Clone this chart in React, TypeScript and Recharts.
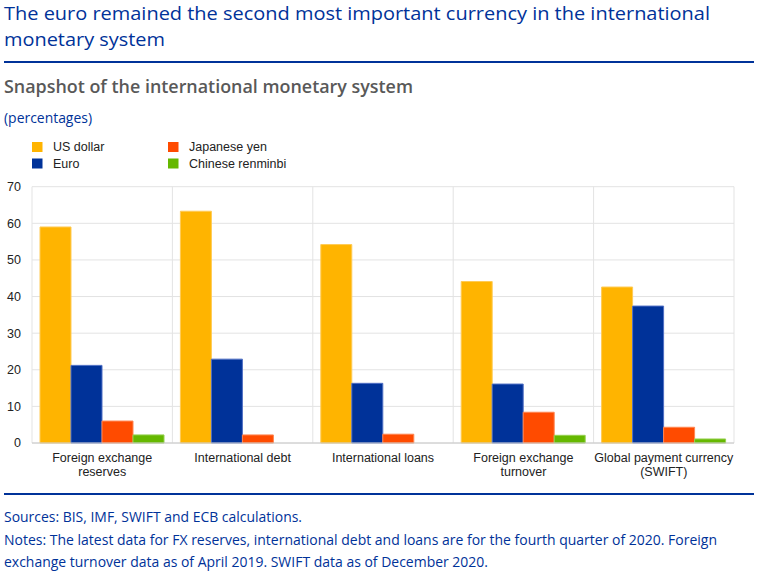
import { BarChart, Bar, XAxis, YAxis, CartesianGrid } from 'recharts';

const categories = [
  'Foreign exchange\nreserves',
  'International debt',
  'International loans',
  'Foreign exchange\nturnover',
  'Global payment currency\n(SWIFT)',
];
const usDollar = [59.0, 63.3, 54.2, 44.1, 42.6];
const euro = [21.2, 22.9, 16.3, 16.1, 37.4];
const yen = [6.0, 2.2, 2.4, 8.4, 4.3];
const renminbi = [2.2, null, null, 2.1, 1.1];
const yTicks = [0, 10, 20, 30, 40, 50, 60, 70];

const series = [
  { key: 'usd', name: 'US dollar', color: '#FFB400', edge: '#FFCB55' },
  { key: 'eur', name: 'Euro', color: '#003299', edge: '#4F6FC4' },
  { key: 'jpy', name: 'Japanese yen', color: '#FF4B00', edge: '#FF8652' },
  { key: 'cny', name: 'Chinese renminbi', color: '#65B800', edge: '#95D04F' },
];

const data = categories.map((category, i) => ({
  category,
  usd: usDollar[i],
  eur: euro[i],
  jpy: yen[i],
  cny: renminbi[i],
}));

const BLUE = '#003299';
const OPEN = "'Open Sans', 'Noto Sans', sans-serif";
const ARIAL = "'Liberation Sans', Arial, sans-serif";

const CategoryTick = (props: any) => {
  const { x, y, payload } = props;
  const lines = String(payload.value).split('\n');
  return (
    <text x={x} y={y} textAnchor="middle" fontFamily={ARIAL} fontSize={12.5} fill="#222">
      {lines.map((line, i) => (
        <tspan key={i} x={x} dy={i === 0 ? 16.5 : 14.5}>
          {line}
        </tspan>
      ))}
    </text>
  );
};

const boundaries = (props: any) => {
  const { left, width } = props.offset;
  return categories.map((_, i) => left + (width * i) / categories.length).concat(left + width);
};

const Texts = () => (
  <svg width={769} height={581} style={{ position: 'absolute', left: 0, top: 0 }}>
    <text x={4} y={20} fontFamily={OPEN} fontSize={19} fill={BLUE} textLength={706} lengthAdjust="spacingAndGlyphs">
      The euro remained the second most important currency in the international
    </text>
    <text x={4} y={46} fontFamily={OPEN} fontSize={19} fill={BLUE} textLength={161} lengthAdjust="spacingAndGlyphs">
      monetary system
    </text>
    <rect x={4} y={61} width={750} height={2} fill={BLUE} />
    <text x={4} y={93} fontFamily={OPEN} fontSize={18} fontWeight={600} fill="#595959" textLength={409} lengthAdjust="spacingAndGlyphs">
      Snapshot of the international monetary system
    </text>
    <text x={4} y={123} fontFamily={OPEN} fontSize={14} fill={BLUE} textLength={88} lengthAdjust="spacingAndGlyphs">
      (percentages)
    </text>
    {series.map((s, i) => {
      const lx = i < 2 ? 32 : 168;
      const ly = i % 2 === 0 ? 142 : 158.5;
      return (
        <g key={s.key}>
          <rect x={lx} y={ly} width={10.5} height={10} fill={s.color} />
          <text x={lx + 21} y={ly + 9} fontFamily={ARIAL} fontSize={12.5} fill="#222">
            {s.name}
          </text>
        </g>
      );
    })}
    <rect x={4} y={493} width={750} height={2} fill={BLUE} />
    <text x={4} y={521.5} fontFamily={OPEN} fontSize={14} fill={BLUE} textLength={298} lengthAdjust="spacingAndGlyphs">
      Sources: BIS, IMF, SWIFT and ECB calculations.
    </text>
    <text x={4} y={545} fontFamily={OPEN} fontSize={14} fill={BLUE} textLength={713} lengthAdjust="spacingAndGlyphs">
      Notes: The latest data for FX reserves, international debt and loans are for the fourth quarter of 2020. Foreign
    </text>
    <text x={4} y={567} fontFamily={OPEN} fontSize={14} fill={BLUE} textLength={484} lengthAdjust="spacingAndGlyphs">
      exchange turnover data as of April 2019. SWIFT data as of December 2020.
    </text>
  </svg>
);

export default function App() {
  return (
    <div style={{ position: 'absolute', left: 0, top: 0, width: 769, height: 581, background: '#fff' }}>
      <Texts />
      <div style={{ position: 'absolute', left: 0, top: 180 }}>
        <BarChart
          width={769}
          height={310}
          data={data}
          margin={{ top: 6.7, right: 35, bottom: 0, left: 0 }}
          barCategoryGap={8}
          barGap={0}
        >
          <CartesianGrid stroke="#e3e3e3" verticalCoordinatesGenerator={boundaries} />
          <XAxis
            dataKey="category"
            height={47}
            interval={0}
            tickLine={false}
            tickSize={0}
            axisLine={{ stroke: '#c8c8c8' }}
            tick={<CategoryTick />}
          />
          <YAxis
            width={32}
            domain={[0, 70]}
            ticks={yTicks}
            interval={0}
            axisLine={false}
            tickLine={false}
            tickSize={0}
            tickMargin={11}
            tick={{ fontFamily: ARIAL, fontSize: 12.5, fill: '#222' }}
          />
          {series.map((s) => (
            <Bar
              key={s.key}
              dataKey={s.key}
              name={s.name}
              fill={s.color}
              stroke={s.edge}
              strokeWidth={1}
              isAnimationActive={false}
            />
          ))}
        </BarChart>
      </div>
    </div>
  );
}
